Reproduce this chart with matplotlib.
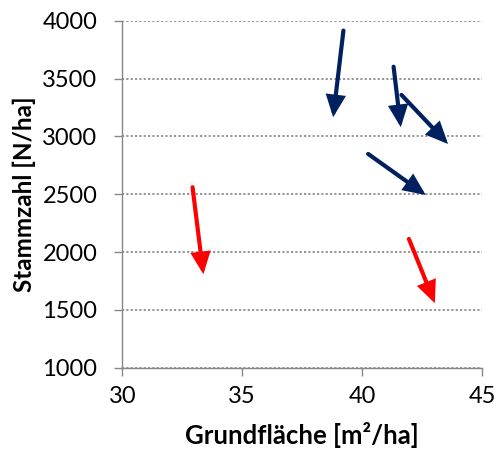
import matplotlib.pyplot as plt
from matplotlib.patches import FancyArrowPatch

plt.rcParams['font.family'] = ['Lato', 'DejaVu Sans']

# arrows: start (x0, y0) -> end (x1, y1)
blue_x0 = [39.22, 41.31, 41.64, 40.25]
blue_y0 = [3914, 3602, 3358, 2848]
blue_x1 = [38.79, 41.61, 43.58, 42.65]
blue_y1 = [3165, 3079, 2934, 2493]

red_x0 = [32.93, 41.95]
red_y0 = [2560, 2113]
red_x1 = [33.38, 43.03]
red_y1 = [1808, 1558]

xticks = [30, 35, 40, 45]
yticks = [1000, 1500, 2000, 2500, 3000, 3500, 4000]

fig = plt.figure(figsize=(4.97, 4.49), dpi=100)
ax = fig.add_axes([0.246, 0.181, 0.724, 0.773])

def draw_arrows(xs0, ys0, xs1, ys1, color):
    for a, b, c, d in zip(xs0, ys0, xs1, ys1):
        arr = FancyArrowPatch((a, b), (c, d), arrowstyle='-|>,head_length=0.8,head_width=0.36',
                              mutation_scale=14, color=color, lw=3.0,
                              shrinkA=0, shrinkB=0, capstyle='round', joinstyle='miter',
                              zorder=3)
        ax.add_patch(arr)

draw_arrows(blue_x0, blue_y0, blue_x1, blue_y1, '#002060')
draw_arrows(red_x0, red_y0, red_x1, red_y1, '#ff0000')

ax.set_xlim(30, 45)
ax.set_ylim(1000, 4000)
ax.set_xticks(xticks)
ax.set_yticks(yticks)

for s in ['top', 'right']:
    ax.spines[s].set_visible(False)
for s in ['left', 'bottom']:
    ax.spines[s].set_color('#868686')
    ax.spines[s].set_linewidth(1.0)

ax.tick_params(axis='both', colors='#868686', labelcolor='black', labelsize=17,
               length=6, width=1.0, direction='out')
ax.tick_params(axis='y', pad=12)
ax.tick_params(axis='x', pad=7)

ax.grid(axis='y', color='#8c8c8c', linestyle=(0, (1.2, 1.2)), linewidth=1.3)
ax.set_axisbelow(True)

ax.set_xlabel('Grundfläche [m²/ha]', fontsize=18.5, fontweight='bold')
ax.set_ylabel('Stammzahl [N/ha]', fontsize=17.5, fontweight='bold')
ax.xaxis.set_label_coords(0.5, -0.155)
ax.yaxis.set_label_coords(-0.24, 0.5)

fig.savefig('out.png', dpi=100)
